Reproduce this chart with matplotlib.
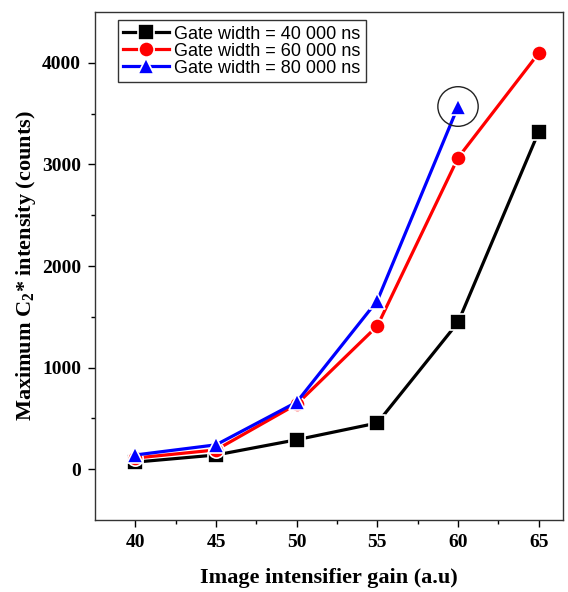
import matplotlib
matplotlib.use("Agg")
import matplotlib.pyplot as plt
from matplotlib.patches import Ellipse

gain = [40, 45, 50, 55, 60, 65]
gw40 = [70, 140, 290, 455, 1445, 3320]
gw60 = [110, 190, 640, 1410, 3065, 4095]
gain80 = [40, 45, 50, 55, 60]
gw80 = [140, 240, 660, 1660, 3570]
labels = ["Gate width = 40 000 ns", "Gate width = 60 000 ns", "Gate width = 80 000 ns"]

plt.rcParams['mathtext.fontset'] = 'custom'
plt.rcParams['mathtext.rm'] = 'Liberation Serif:bold'
plt.rcParams['mathtext.bf'] = 'Liberation Serif:bold'

fig = plt.figure(figsize=(5.68, 5.92), dpi=100)
ax = fig.add_axes([0.1673, 0.1216, 0.8237, 0.8581])

kw = dict(lw=2.3, markersize=11, markeredgecolor='white', markeredgewidth=1.2)
ax.plot(gain, gw40, color='black', marker='s', label=labels[0], **kw)
ax.plot(gain, gw60, color='red', marker='o', label=labels[1], **kw)
ax.plot(gain80, gw80, color='blue', marker='^', label=labels[2], **kw)

ax.set_xlim(37.5, 66.5)
ax.set_ylim(-500, 4500)
ax.set_xticks([40, 45, 50, 55, 60, 65])
ax.set_xticks([42.5, 47.5, 52.5, 57.5, 62.5], minor=True)
ax.set_yticks([0, 1000, 2000, 3000, 4000])
ax.set_yticks([500, 1500, 2500, 3500], minor=True)
ax.tick_params(which='major', direction='out', length=5, width=1, top=False, right=False, pad=5)
ax.tick_params(which='minor', direction='out', length=3, width=1, top=False, right=False)
for sp in ax.spines.values():
    sp.set_linewidth(1.0)
    sp.set_color('#333333')
for lab in ax.get_xticklabels() + ax.get_yticklabels():
    lab.set_fontfamily('Liberation Serif')
    lab.set_fontweight('bold')
    lab.set_fontsize(14)

ax.set_xlabel("Image intensifier gain (a.u)", fontfamily='Liberation Serif', fontweight='bold', fontsize=16, labelpad=12)
ax.set_ylabel(r"Maximum C$_2$* intensity (counts)", fontfamily='Liberation Serif', fontweight='bold', fontsize=16, labelpad=3)

# circle annotation around the 80 000 ns point at gain 60
ax.add_patch(Ellipse((gain80[4], gw80[4]), width=2.5, height=390, fill=False, edgecolor='#222222', lw=1.0, zorder=5))

leg = ax.legend(loc='upper left', bbox_to_anchor=(0.049, 0.984), prop={'family': 'Liberation Sans', 'size': 13},
                frameon=True, fancybox=False, edgecolor='black', handlelength=2.5, borderpad=0.3,
                labelspacing=0.0, handletextpad=0.3, borderaxespad=0.0)
leg.get_frame().set_linewidth(1.0)

fig.savefig("out.png", dpi=100)
